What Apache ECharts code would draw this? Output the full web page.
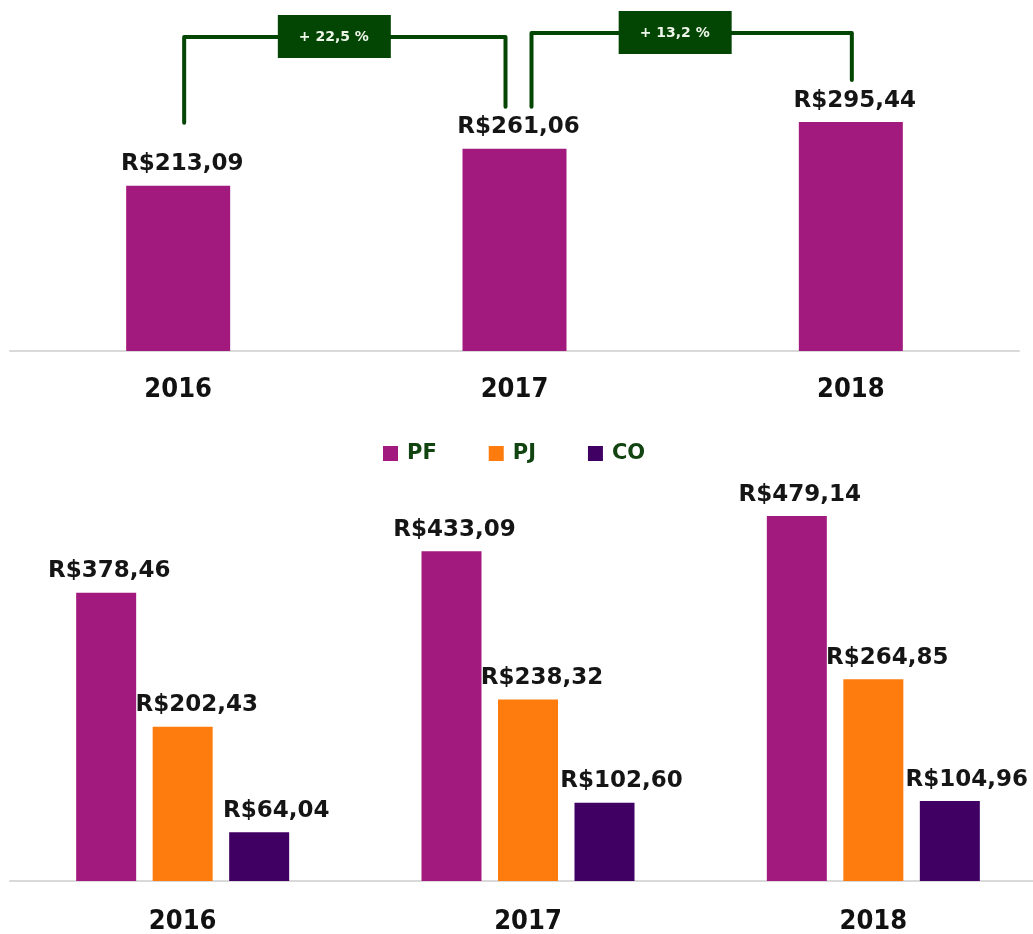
<!DOCTYPE html>
<html>
<head>
<meta charset="utf-8">
<script src="https://cdn.jsdelivr.net/npm/echarts@6/dist/echarts.min.js"></script>
<style>
  html, body { margin: 0; padding: 0; background: #fff; }
  #chart { width: 1033px; height: 934px; }
</style>
</head>
<body>
<div id="chart"></div>
<script>
// data
var years = ['2016', '2017', '2018'];
var totalValues = [213.09, 261.06, 295.44];
var seriesNames = ['PF', 'PJ', 'CO'];
var pfValues = [378.46, 433.09, 479.14];
var pjValues = [202.43, 238.32, 264.85];
var coValues = [64.04, 102.60, 104.96];

var colors = { PF: '#a31a7f', PJ: '#fd7c0d', CO: '#400063' };
var green = '#034503';

function money(v) {
    return 'R$' + v.toFixed(2).replace('.', ',');
}
function growth(a, b) {
    return '+ ' + ((b / a - 1) * 100).toFixed(1).replace('.', ',') + ' %';
}

var labelFont = {
    fontFamily: 'DejaVu Sans',
    fontWeight: 'bold',
    fontSize: 23,
    color: '#151515'
};

function valueLabel(dx) {
    return Object.assign({
        show: true,
        position: 'top',
        distance: 10,
        offset: [dx, 0],
        formatter: function (p) { return money(p.value); }
    }, labelFont);
}

var yearAxis = function (gridIndex, margin) {
    return {
        type: 'category',
        gridIndex: gridIndex,
        data: years,
        axisLine: { lineStyle: { color: '#d9d9d9', width: 2 } },
        axisTick: { show: false },
        axisLabel: {
            margin: margin,
            fontFamily: 'DejaVu Sans Condensed, DejaVu Sans',
            fontWeight: 'bold',
            fontSize: 27,
            color: '#111'
        }
    };
};

var chart = echarts.init(document.getElementById('chart'));

var option = {
    animation: false,
    backgroundColor: '#fff',
    legend: {
        data: seriesNames,
        left: 383,
        top: 443,
        padding: 0,
        icon: 'rect',
        itemWidth: 15,
        itemHeight: 15,
        itemGap: 52,
        textStyle: {
            fontFamily: 'DejaVu Sans',
            fontWeight: 'bold',
            fontSize: 21,
            color: '#114411',
            padding: [0, 0, 0, 4]
        }
    },
    grid: [
        { left: 10, width: 1009, top: 41, height: 310, outerBoundsMode: 'none' },
        { left: 10, width: 1036, top: 424, height: 457, outerBoundsMode: 'none' }
    ],
    xAxis: [yearAxis(0, 25), yearAxis(1, 27)],
    yAxis: [
        { type: 'value', gridIndex: 0, min: 0, max: 400, show: false, splitLine: { show: false } },
        { type: 'value', gridIndex: 1, min: 0, max: 600, show: false, splitLine: { show: false } }
    ],
    series: [
        {
            name: 'Total',
            type: 'bar',
            xAxisIndex: 0,
            yAxisIndex: 0,
            barWidth: 104,
            data: totalValues,
            itemStyle: { color: colors.PF },
            label: valueLabel(4)
        },
        {
            name: 'PF',
            type: 'bar',
            xAxisIndex: 1,
            yAxisIndex: 1,
            barWidth: 60,
            barGap: '27.5%',
            data: pfValues,
            itemStyle: { color: colors.PF },
            label: valueLabel(3)
        },
        {
            name: 'PJ',
            type: 'bar',
            xAxisIndex: 1,
            yAxisIndex: 1,
            barWidth: 60,
            barGap: '27.5%',
            data: pjValues,
            itemStyle: { color: colors.PJ },
            label: valueLabel(14)
        },
        {
            name: 'CO',
            type: 'bar',
            xAxisIndex: 1,
            yAxisIndex: 1,
            barWidth: 60,
            barGap: '27.5%',
            data: coValues,
            itemStyle: { color: colors.CO },
            label: valueLabel(17)
        }
    ]
};

chart.setOption(option);

// growth brackets above the top chart
function px(i) { return chart.convertToPixel({ xAxisIndex: 0 }, years[i]); }
function py(v) { return chart.convertToPixel({ yAxisIndex: 0 }, v); }

function bracket(x1, y1, x2, y2, top, boxX, text) {
    return [
        {
            type: 'polyline',
            shape: { points: [[x1, y1], [x1, top], [x2, top], [x2, y2]] },
            style: { stroke: green, lineWidth: 4, fill: null, lineJoin: 'round', lineCap: 'round' }
        },
        {
            type: 'rect',
            shape: { x: boxX - 56, y: top - 22, width: 113, height: 43 },
            style: { fill: green }
        },
        {
            type: 'text',
            x: boxX,
            y: top,
            style: {
                text: text,
                fill: '#eef6ea',
                font: 'bold 14px "DejaVu Sans"',
                align: 'center',
                verticalAlign: 'middle'
            }
        }
    ];
}

var b1x1 = px(0) + 6, b1x2 = px(1) - 9;
var b2x1 = px(1) + 17, b2x2 = px(2) + 1;
var elements = [].concat(
    bracket(b1x1, py(totalValues[0]) - 63, b1x2, py(totalValues[1]) - 42, 37,
        (b1x1 + b1x2) / 2 - 11, growth(totalValues[0], totalValues[1])),
    bracket(b2x1, py(totalValues[1]) - 42, b2x2, py(totalValues[2]) - 42, 33,
        (b2x1 + b2x2) / 2 - 17, growth(totalValues[1], totalValues[2]))
);

chart.setOption({ graphic: { elements: elements } });
</script>
</body>
</html>
